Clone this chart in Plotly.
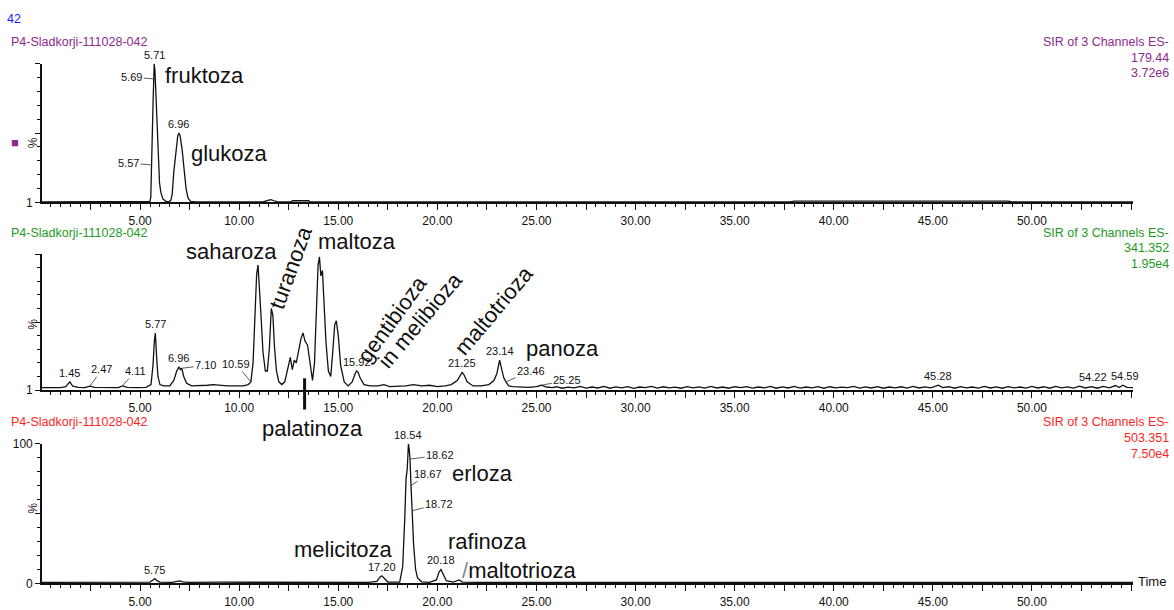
import plotly.graph_objects as go

# ---------------------------------------------------------------------------
# SIR chromatograms of sample P4-Sladkorji-111028-042 (three ES- channels)
# retention time in minutes, relative intensity in %
# ---------------------------------------------------------------------------

# channel ES- 179.44 (monosaccharides)
t_179 = [0.05, 5.45, 5.50, 5.54, 5.57, 5.62, 5.66, 5.69, 5.71, 5.75,
         5.80, 5.86, 5.92, 5.98, 6.05, 6.15, 6.30, 6.45, 6.55, 6.62,
         6.70, 6.80, 6.90, 6.96, 7.02, 7.12, 7.22, 7.32, 7.42, 7.55,
         7.80, 11.20, 11.45, 11.60, 11.75, 11.95, 12.60, 12.70, 13.50, 13.60,
         37.80, 38.00, 48.80, 49.00, 55.10]
i_179 = [0.3, 0.3, 0.8, 4, 27, 45, 75, 89, 100, 95,
         75, 50, 25, 14, 7, 2.5, 0.8, 0.5, 1.5, 6,
         22, 38, 48, 50, 48, 38, 24, 10, 3, 0.8,
         0.3, 0.3, 1.5, 2.0, 1.2, 0.3, 0.3, 1.2, 1.2, 0.3,
         0.3, 0.9, 0.9, 0.3, 0.3]

# channel ES- 341.352 (disaccharides) - peak region
t_341_a = [0.05, 0.6, 1.0, 1.25, 1.45, 1.6, 1.9, 2.2, 2.47, 2.7,
           3.1, 3.5, 3.9, 4.11, 4.35, 4.8, 5.3, 5.55, 5.65, 5.72,
           5.77, 5.83, 5.9, 6.0, 6.2, 6.5, 6.7, 6.85, 6.96, 7.03,
           7.10, 7.2, 7.35, 7.6, 8.0, 8.4, 8.7, 9.0, 9.4, 9.8,
           10.2, 10.45, 10.59, 10.7, 10.8, 10.88, 10.95, 11.02, 11.1, 11.2,
           11.32, 11.42, 11.52, 11.62, 11.7, 11.78, 11.88, 12.0, 12.15, 12.3,
           12.45, 12.58, 12.68, 12.78, 12.88, 13.0, 13.12, 13.22, 13.32, 13.45,
           13.58, 13.7, 13.8, 13.9, 13.98, 14.05, 14.12, 14.2, 14.28, 14.38,
           14.5, 14.62, 14.72, 14.82, 14.9, 15.0, 15.12, 15.3, 15.5, 15.7,
           15.85, 15.92, 16.0, 16.1, 16.3, 16.6, 17.0, 17.3, 17.6, 18.0,
           18.4, 18.8, 19.2, 19.6, 20.0, 20.4, 20.7, 21.0, 21.15, 21.25,
           21.35, 21.5, 21.8, 22.2, 22.6, 22.85, 23.0, 23.14, 23.25, 23.35,
           23.46, 23.6, 23.8, 24.2, 24.6, 25.0, 25.25, 25.5, 25.8]
i_341_a = [1.8, 1.6, 1.8, 2.5, 6, 2.8, 2.0, 1.8, 2.8, 2.0,
           1.8, 2.0, 1.8, 3.0, 2.0, 1.8, 2.0, 4, 18, 36,
           42, 25, 10, 4, 3, 3, 7, 14, 17, 15,
           16, 10, 5, 3, 3, 3.5, 4, 3.5, 3, 3,
           3, 4, 6, 20, 55, 85, 92, 78, 55, 28,
           14, 14, 30, 60, 55, 32, 14, 6, 4, 6,
           16, 24, 15, 22, 20, 30, 38, 42, 36, 33,
           18, 7, 20, 60, 92, 98, 84, 88, 65, 35,
           14, 10, 28, 48, 51, 40, 18, 6, 3, 6,
           12, 14, 13, 9, 4, 3, 3, 4, 2.5, 2.5,
           3, 4, 3, 3.5, 2.5, 3, 4, 7, 11, 13,
           11, 6, 3, 3, 4, 7, 12, 22, 15, 9,
           6, 3, 2.5, 2, 2, 2.5, 3.5, 2.2, 1.8]

# channel ES- 341.352 - late baseline
t_341_b = [26.0, 26.3, 26.6, 26.9, 27.2, 27.5, 27.8, 28.1, 28.4, 28.7,
           29.0, 29.3, 29.6, 29.9, 30.2, 30.5, 30.8, 31.1, 31.4, 31.7,
           32.0, 32.3, 32.6, 32.9, 33.2, 33.5, 33.8, 34.1, 34.4, 34.7,
           35.0, 35.3, 35.6, 35.9, 36.2, 36.5, 36.8, 37.1, 37.4, 37.7,
           38.0, 38.3, 38.6, 38.9, 39.2, 39.5, 39.8, 40.1, 40.4, 40.7,
           41.0, 41.3, 41.6, 41.9, 42.2, 42.5, 42.8, 43.1, 43.4, 43.7,
           44.0, 44.3, 44.6, 44.9, 45.28, 45.5,
           45.8, 46.1, 46.4, 46.7, 47.0, 47.3, 47.6, 47.9, 48.2, 48.5,
           48.8, 49.1, 49.4, 49.7, 50.0, 50.3, 50.6, 50.9, 51.2, 51.5,
           51.8, 52.1, 52.4, 52.7, 53.0, 53.3, 53.6, 53.9,
           54.22, 54.4, 54.59, 54.8, 55.1]
i_341_b = [2.4, 1.3, 2.1, 1.6, 2.6, 1.4, 2.2, 1.5, 2.7, 1.3,
           2.3, 1.6, 2.5, 1.2, 2.2, 1.7, 2.6, 1.4, 2.4, 1.5,
           2.1, 1.3, 2.5, 1.6, 2.3, 1.4, 2.6, 1.5, 2.2, 1.3,
           2.4, 1.7, 2.5, 1.4, 2.2, 1.6, 2.7, 1.3, 2.3, 1.5,
           2.6, 1.4, 2.2, 1.6, 2.5, 1.3, 2.4, 1.5, 2.1, 1.7,
           2.6, 1.4, 2.3, 1.5, 2.5, 1.3, 2.2, 1.6, 2.4, 1.4,
           2.7, 1.5, 2.3, 1.6, 3.6, 1.8,
           2.4, 1.3, 2.5, 1.6, 2.2, 1.4, 2.6, 1.5, 2.3, 1.3,
           2.5, 1.6, 2.2, 1.4, 2.7, 1.5, 2.4, 1.3, 2.6, 1.6,
           2.3, 1.4, 2.8, 1.5, 2.5, 1.3, 2.7, 1.6,
           3.3, 1.8, 3.5, 1.9, 1.7]

t_341 = t_341_a + t_341_b
i_341 = i_341_a + i_341_b

# channel ES- 503.351 (trisaccharides)
t_503 = [0.05, 1.0, 2.0, 3.0, 4.0, 5.0, 5.5, 5.65, 5.75, 5.85,
         6.0, 6.6, 6.9, 7.0, 7.15, 7.5, 9.0, 11.0, 13.0, 15.0,
         16.5, 16.95, 17.1, 17.2, 17.3, 17.5, 18.1, 18.25, 18.35, 18.42,
         18.48, 18.54, 18.58, 18.62, 18.67, 18.72, 18.8, 18.9, 19.0, 19.2,
         19.6, 19.95, 20.08, 20.18, 20.28, 20.45, 20.8, 21.0, 21.1, 21.25,
         22.0, 25.0, 30.0, 35.0, 40.0, 45.0, 50.0, 55.1]
i_503 = [0.8, 0.9, 0.7, 0.9, 0.8, 0.8, 1.0, 2.5, 3.5, 2.0,
         1.0, 0.8, 1.5, 1.8, 1.2, 0.8, 0.9, 0.8, 0.9, 0.8,
         0.8, 1.5, 4.5, 5.5, 4.0, 1.0, 1.0, 12, 45, 75,
         82, 100, 96, 89, 70, 52, 28, 10, 4, 1.2,
         0.8, 2.5, 8, 10, 7, 2, 1.0, 2.2, 2.5, 1.0,
         0.8, 0.8, 0.8, 0.8, 0.8, 0.8, 0.8, 0.8]

# axis tick labels
x_major = [2.5 * k for k in range(1, 23)]
x_ticktext = [f"{v:.2f}" if (v % 5 == 0 and v <= 50) else "" for v in x_major]

# per-channel header info
channels = [
    dict(mass="179.44", scale="3.72e6", color="#8e2a8e", ylabels=["1", "", ""]),
    dict(mass="341.352", scale="1.95e4", color="#1f9a1f", ylabels=["1", "", ""]),
    dict(mass="503.351", scale="7.50e4", color="#ff1f1f", ylabels=["0", "", "100"]),
]
sample_name = "P4-Sladkorji-111028-042"

# retention-time labels: (text, time, intensity, dx, dy, leader)
rt_labels = [
    [("5.71", 5.71, 100, 0, 0, False), ("5.69", 5.69, 89, -22, -2, True),
     ("5.57", 5.57, 27, -23, -2, True), ("6.96", 6.96, 50, 0, 0, False)],
    [("1.45", 1.45, 6, 0, 0, False), ("2.47", 2.47, 2.8, 12, -17, True),
     ("4.11", 4.11, 3, 13, -15, True), ("5.77", 5.77, 42, 0, 0, False),
     ("6.96", 6.96, 17, 0, 0, False), ("7.10", 7.10, 16, 24, -3, True),
     ("10.59", 10.59, 6, -15, -18, True), ("15.92", 15.92, 14, 0, 0, False),
     ("21.25", 21.25, 13, 0, 0, False), ("23.14", 23.14, 22, 0, 0, False),
     ("23.46", 23.46, 6, 25, -11, True), ("25.25", 25.25, 3.5, 26, -5, True),
     ("45.28", 45.28, 3.6, 0, 0, False), ("54.22", 54.22, 3.3, -23, 0, False),
     ("54.59", 54.59, 3.5, 2, 0, False)],
    [("5.75", 5.75, 3.5, 0, 0, False), ("17.20", 17.20, 5.5, 0, 0, False),
     ("18.54", 18.54, 100, 0, 0, False), ("18.62", 18.62, 89, 30, -4, True),
     ("18.67", 18.67, 70, 17, -12, True), ("18.72", 18.72, 52, 27, -7, True),
     ("20.18", 20.18, 10, 0, 0, False)],
]

# compound names: (text, x px, y px, angle)
compound_names = [
    ("fruktoza", 204, 70, 0), ("glukoza", 229, 150, 0),
    ("saharoza", 232, 250, 0), ("turanoza", 291, 267, -70),
    ("maltoza", 357, 240, 0), ("gentibioza", 392, 320, -54),
    ("in melibioza", 420, 321, -50), ("maltotrioza", 494, 311, -50),
    ("panoza", 562, 350, 0), ("palatinoza", 312, 431, 0),
    ("erloza", 482, 477, 0), ("melicitoza", 343, 555, 0),
    ("rafinoza", 487, 547, 0),
    ("<span style='color:#888'>/</span>maltotrioza", 519, 577, 0),
]

# ---------------------------------------------------------------------------
W, H = 1174, 610
PLOT_L, PLOT_R = 42, 1133
panel_px = [(58, 200), (253, 392), (447, 590)]   # (top, bottom) of each panel
X_RANGE = [0.05, 55.1]


def fx(px):
    return px / W


def fy(py):
    return 1 - py / H


FONT_TXT = "Liberation Sans, Arial, sans-serif"
FONT_SMALL = "Liberation Sans, Arial, sans-serif"

fig = go.Figure()
series = [(t_179, i_179), (t_341, i_341), (t_503, i_503)]
for k, (tt, ii) in enumerate(series):
    sfx = "" if k == 0 else str(k + 1)
    fig.add_trace(go.Scatter(
        x=tt, y=ii, mode="lines", xaxis="x" + sfx, yaxis="y" + sfx,
        line=dict(color="#111111", width=1.3), hoverinfo="skip",
        showlegend=False, cliponaxis=False,
    ))

layout = dict(
    width=W, height=H, margin=dict(l=0, r=0, t=0, b=0),
    paper_bgcolor="white", plot_bgcolor="white", showlegend=False,
)
annotations = []
for k, (top, bot) in enumerate(panel_px):
    sfx = "" if k == 0 else str(k + 1)
    layout["xaxis" + sfx] = dict(
        domain=[fx(PLOT_L), fx(PLOT_R)], anchor="y" + sfx, range=X_RANGE,
        showline=True, linecolor="#111", linewidth=1.6,
        tickmode="array", tickvals=x_major, ticktext=x_ticktext,
        ticks="outside", ticklen=6, tickwidth=1.3, tickcolor="#111",
        minor=dict(tickmode="linear", tick0=0, dtick=0.5, ticks="outside",
                   ticklen=3, tickwidth=1, tickcolor="#111"),
        tickfont=dict(family=FONT_SMALL, size=12, color="#111"),
        showgrid=False, zeroline=False, fixedrange=True,
    )
    layout["yaxis" + sfx] = dict(
        domain=[fy(bot), fy(top)], anchor="x" + sfx, range=[0, 100],
        showline=True, linecolor="#111", linewidth=1.6,
        tickmode="array", tickvals=[0, 50, 100], ticktext=channels[k]["ylabels"],
        ticks="outside", ticklen=5, tickwidth=1.3, tickcolor="#111",
        minor=dict(tickmode="linear", tick0=0, dtick=10, ticks="outside",
                   ticklen=3, tickwidth=1, tickcolor="#111"),
        tickfont=dict(family=FONT_SMALL, size=12, color="#111"),
        showgrid=False, zeroline=False, fixedrange=True,
    )

    ch = channels[k]
    # sample name (left) and channel info (right)
    annotations.append(dict(
        text=sample_name, xref="paper", yref="paper", x=fx(9), y=fy(top - 22),
        xanchor="left", yanchor="middle", showarrow=False,
        font=dict(family=FONT_SMALL, size=12.5, color=ch["color"])))
    for j, line in enumerate(["SIR of 3 Channels ES-", ch["mass"], ch["scale"]]):
        annotations.append(dict(
            text=line, xref="paper", yref="paper", x=fx(1171),
            y=fy(top - 22 + j * 16), xanchor="right", yanchor="middle",
            showarrow=False, font=dict(family=FONT_SMALL, size=12.5, color=ch["color"])))
    # percent sign beside the intensity axis
    annotations.append(dict(
        text="%", xref="paper", yref="paper", x=fx(23), y=fy((top + bot) / 2 + 2),
        showarrow=False, textangle=90,
        font=dict(family=FONT_SMALL, size=12, color="#111")))

    # retention-time labels
    for text, t, v, dx, dy, leader in rt_labels[k]:
        a = dict(text=text, x=t, y=v, xref="x" + sfx, yref="y" + sfx,
                 font=dict(family=FONT_SMALL, size=11, color="#111"))
        if leader:
            a.update(showarrow=True, arrowhead=0, arrowwidth=0.8, arrowcolor="#333",
                     ax=dx, ay=dy, standoff=0)
        else:
            a.update(showarrow=False, yanchor="bottom", xshift=dx, yshift=1)
        annotations.append(a)

# run number and channel marker
annotations.append(dict(text="42", xref="paper", yref="paper", x=fx(5), y=fy(12),
                        xanchor="left", yanchor="middle", showarrow=False,
                        font=dict(family=FONT_SMALL, size=12.5, color="#1a1aff")))
annotations.append(dict(text="■", xref="paper", yref="paper", x=fx(9), y=fy(129),
                        showarrow=False,
                        font=dict(family=FONT_SMALL, size=13, color="#8e2a8e")))
annotations.append(dict(text="Time", xref="paper", yref="paper", x=fx(1136), y=fy(588),
                        xanchor="left", yanchor="middle", showarrow=False,
                        font=dict(family=FONT_SMALL, size=13, color="#111")))

# compound names
for text, px, py, ang in compound_names:
    annotations.append(dict(text=text, xref="paper", yref="paper", x=fx(px), y=fy(py),
                            xanchor="center", yanchor="middle", showarrow=False,
                            textangle=ang,
                            font=dict(family=FONT_TXT, size=22, color="#111")))

layout["annotations"] = annotations

# palatinoza marker across the middle time axis
layout["shapes"] = [dict(type="line", xref="x2", yref="paper", x0=13.3, x1=13.3,
                         y0=fy(412), y1=fy(380), line=dict(color="#111", width=3))]

fig.update_layout(**layout)
fig.write_html("out.html")
